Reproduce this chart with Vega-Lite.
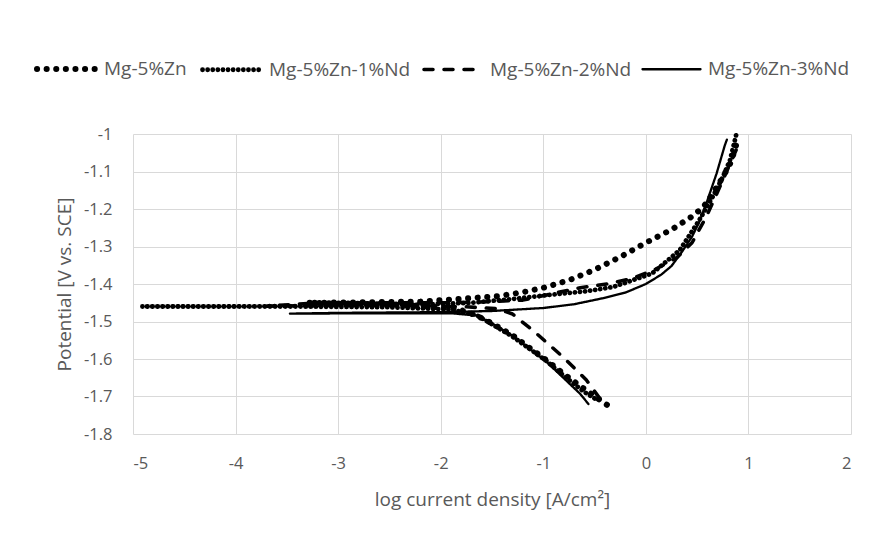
{
  "$schema": "https://vega.github.io/schema/vega-lite/v6.json",
  "width": 718,
  "height": 300,
  "autosize": {"type": "none"},
  "padding": {"left": 133, "top": 134, "right": 23, "bottom": 102},
  "background": "white",
  "config": {
    "font": "Open Sans",
    "view": {"stroke": null},
    "axis": {
      "labelColor": "#595959",
      "titleColor": "#595959",
      "labelFontSize": 16.5,
      "titleFontSize": 19,
      "titleFontWeight": "normal",
      "gridColor": "#d9d9d9",
      "gridWidth": 1,
      "domain": false,
      "ticks": false,
      "labelExpr": "datum.value + ''"
    },
    "legend": {
      "title": null,
      "orient": "none",
      "legendX": -99,
      "legendY": -97,
      "direction": "horizontal",
      "symbolType": "stroke",
      "symbolSize": 3364,
      "symbolStrokeColor": "black",
      "labelFontSize": 19,
      "labelColor": "#595959",
      "labelOffset": 6,
      "columnPadding": 5
    }
  },
  "data": {
    "values": [
      {"s": "Mg-5%Zn", "i": 1, "x": -0.38, "y": -1.722},
      {"s": "Mg-5%Zn", "i": 2, "x": -0.47, "y": -1.705},
      {"s": "Mg-5%Zn", "i": 3, "x": -0.6, "y": -1.68},
      {"s": "Mg-5%Zn", "i": 4, "x": -0.8, "y": -1.64},
      {"s": "Mg-5%Zn", "i": 5, "x": -0.97, "y": -1.603},
      {"s": "Mg-5%Zn", "i": 6, "x": -1.15, "y": -1.567},
      {"s": "Mg-5%Zn", "i": 7, "x": -1.3, "y": -1.537},
      {"s": "Mg-5%Zn", "i": 8, "x": -1.5, "y": -1.505},
      {"s": "Mg-5%Zn", "i": 9, "x": -1.65, "y": -1.484},
      {"s": "Mg-5%Zn", "i": 10, "x": -1.85, "y": -1.465},
      {"s": "Mg-5%Zn", "i": 11, "x": -2.4, "y": -1.455},
      {"s": "Mg-5%Zn", "i": 12, "x": -3.3, "y": -1.45},
      {"s": "Mg-5%Zn", "i": 13, "x": -2.8, "y": -1.449},
      {"s": "Mg-5%Zn", "i": 14, "x": -2.2, "y": -1.447},
      {"s": "Mg-5%Zn", "i": 15, "x": -1.72, "y": -1.438},
      {"s": "Mg-5%Zn", "i": 16, "x": -1.43, "y": -1.432},
      {"s": "Mg-5%Zn", "i": 17, "x": -1.2, "y": -1.422},
      {"s": "Mg-5%Zn", "i": 18, "x": -1.0, "y": -1.41},
      {"s": "Mg-5%Zn", "i": 19, "x": -0.75, "y": -1.39},
      {"s": "Mg-5%Zn", "i": 20, "x": -0.5, "y": -1.362},
      {"s": "Mg-5%Zn", "i": 21, "x": -0.25, "y": -1.328},
      {"s": "Mg-5%Zn", "i": 22, "x": 0.0, "y": -1.29},
      {"s": "Mg-5%Zn", "i": 23, "x": 0.25, "y": -1.255},
      {"s": "Mg-5%Zn", "i": 24, "x": 0.45, "y": -1.22},
      {"s": "Mg-5%Zn", "i": 25, "x": 0.56, "y": -1.195},
      {"s": "Mg-5%Zn", "i": 26, "x": 0.65, "y": -1.16},
      {"s": "Mg-5%Zn", "i": 27, "x": 0.75, "y": -1.115},
      {"s": "Mg-5%Zn", "i": 28, "x": 0.83, "y": -1.075},
      {"s": "Mg-5%Zn", "i": 29, "x": 0.88, "y": -1.03},

      {"s": "Mg-5%Zn-1%Nd", "i": 1, "x": -0.5, "y": -1.705},
      {"s": "Mg-5%Zn-1%Nd", "i": 2, "x": -0.6, "y": -1.688},
      {"s": "Mg-5%Zn-1%Nd", "i": 3, "x": -0.8, "y": -1.645},
      {"s": "Mg-5%Zn-1%Nd", "i": 4, "x": -0.97, "y": -1.605},
      {"s": "Mg-5%Zn-1%Nd", "i": 5, "x": -1.3, "y": -1.54},
      {"s": "Mg-5%Zn-1%Nd", "i": 6, "x": -1.65, "y": -1.483},
      {"s": "Mg-5%Zn-1%Nd", "i": 7, "x": -1.9, "y": -1.468},
      {"s": "Mg-5%Zn-1%Nd", "i": 8, "x": -2.5, "y": -1.462},
      {"s": "Mg-5%Zn-1%Nd", "i": 9, "x": -3.5, "y": -1.46},
      {"s": "Mg-5%Zn-1%Nd", "i": 10, "x": -4.91, "y": -1.46},
      {"s": "Mg-5%Zn-1%Nd", "i": 11, "x": -4.0, "y": -1.46},
      {"s": "Mg-5%Zn-1%Nd", "i": 12, "x": -3.0, "y": -1.458},
      {"s": "Mg-5%Zn-1%Nd", "i": 13, "x": -2.2, "y": -1.455},
      {"s": "Mg-5%Zn-1%Nd", "i": 14, "x": -1.7, "y": -1.45},
      {"s": "Mg-5%Zn-1%Nd", "i": 15, "x": -1.3, "y": -1.44},
      {"s": "Mg-5%Zn-1%Nd", "i": 16, "x": -0.97, "y": -1.43},
      {"s": "Mg-5%Zn-1%Nd", "i": 17, "x": -0.6, "y": -1.42},
      {"s": "Mg-5%Zn-1%Nd", "i": 18, "x": -0.32, "y": -1.408},
      {"s": "Mg-5%Zn-1%Nd", "i": 19, "x": 0.06, "y": -1.372},
      {"s": "Mg-5%Zn-1%Nd", "i": 20, "x": 0.33, "y": -1.31},
      {"s": "Mg-5%Zn-1%Nd", "i": 21, "x": 0.52, "y": -1.23},
      {"s": "Mg-5%Zn-1%Nd", "i": 22, "x": 0.65, "y": -1.168},
      {"s": "Mg-5%Zn-1%Nd", "i": 23, "x": 0.75, "y": -1.115},
      {"s": "Mg-5%Zn-1%Nd", "i": 24, "x": 0.82, "y": -1.07},
      {"s": "Mg-5%Zn-1%Nd", "i": 25, "x": 0.88, "y": -1.003},

      {"s": "Mg-5%Zn-2%Nd", "i": 1, "x": -0.45, "y": -1.705},
      {"s": "Mg-5%Zn-2%Nd", "i": 2, "x": -0.58, "y": -1.656},
      {"s": "Mg-5%Zn-2%Nd", "i": 3, "x": -0.81, "y": -1.594},
      {"s": "Mg-5%Zn-2%Nd", "i": 4, "x": -1.07, "y": -1.531},
      {"s": "Mg-5%Zn-2%Nd", "i": 5, "x": -1.3, "y": -1.48},
      {"s": "Mg-5%Zn-2%Nd", "i": 6, "x": -1.45, "y": -1.466},
      {"s": "Mg-5%Zn-2%Nd", "i": 7, "x": -1.8, "y": -1.46},
      {"s": "Mg-5%Zn-2%Nd", "i": 8, "x": -2.5, "y": -1.457},
      {"s": "Mg-5%Zn-2%Nd", "i": 9, "x": -3.0, "y": -1.457},
      {"s": "Mg-5%Zn-2%Nd", "i": 10, "x": -3.69, "y": -1.459},
      {"s": "Mg-5%Zn-2%Nd", "i": 11, "x": -3.3, "y": -1.452},
      {"s": "Mg-5%Zn-2%Nd", "i": 12, "x": -2.5, "y": -1.45},
      {"s": "Mg-5%Zn-2%Nd", "i": 13, "x": -1.9, "y": -1.45},
      {"s": "Mg-5%Zn-2%Nd", "i": 14, "x": -1.5, "y": -1.447},
      {"s": "Mg-5%Zn-2%Nd", "i": 15, "x": -1.2, "y": -1.443},
      {"s": "Mg-5%Zn-2%Nd", "i": 16, "x": -0.9, "y": -1.425},
      {"s": "Mg-5%Zn-2%Nd", "i": 17, "x": -0.64, "y": -1.41},
      {"s": "Mg-5%Zn-2%Nd", "i": 18, "x": -0.38, "y": -1.4},
      {"s": "Mg-5%Zn-2%Nd", "i": 19, "x": -0.13, "y": -1.385},
      {"s": "Mg-5%Zn-2%Nd", "i": 20, "x": 0.1, "y": -1.36},
      {"s": "Mg-5%Zn-2%Nd", "i": 21, "x": 0.3, "y": -1.33},
      {"s": "Mg-5%Zn-2%Nd", "i": 22, "x": 0.45, "y": -1.29},
      {"s": "Mg-5%Zn-2%Nd", "i": 23, "x": 0.59, "y": -1.22},
      {"s": "Mg-5%Zn-2%Nd", "i": 24, "x": 0.69, "y": -1.16},
      {"s": "Mg-5%Zn-2%Nd", "i": 25, "x": 0.82, "y": -1.08},
      {"s": "Mg-5%Zn-2%Nd", "i": 26, "x": 0.88, "y": -1.043},

      {"s": "Mg-5%Zn-3%Nd", "i": 2, "x": -0.56, "y": -1.72},
      {"s": "Mg-5%Zn-3%Nd", "i": 3, "x": -0.64, "y": -1.693},
      {"s": "Mg-5%Zn-3%Nd", "i": 4, "x": -0.97, "y": -1.607},
      {"s": "Mg-5%Zn-3%Nd", "i": 5, "x": -1.29, "y": -1.54},
      {"s": "Mg-5%Zn-3%Nd", "i": 6, "x": -1.5, "y": -1.505},
      {"s": "Mg-5%Zn-3%Nd", "i": 7, "x": -1.65, "y": -1.484},
      {"s": "Mg-5%Zn-3%Nd", "i": 8, "x": -1.9, "y": -1.478},
      {"s": "Mg-5%Zn-3%Nd", "i": 9, "x": -2.5, "y": -1.478},
      {"s": "Mg-5%Zn-3%Nd", "i": 10, "x": -3.47, "y": -1.479},
      {"s": "Mg-5%Zn-3%Nd", "i": 11, "x": -3.0, "y": -1.477},
      {"s": "Mg-5%Zn-3%Nd", "i": 12, "x": -2.0, "y": -1.475},
      {"s": "Mg-5%Zn-3%Nd", "i": 13, "x": -1.5, "y": -1.472},
      {"s": "Mg-5%Zn-3%Nd", "i": 14, "x": -1.0, "y": -1.464},
      {"s": "Mg-5%Zn-3%Nd", "i": 15, "x": -0.7, "y": -1.454},
      {"s": "Mg-5%Zn-3%Nd", "i": 16, "x": -0.42, "y": -1.438},
      {"s": "Mg-5%Zn-3%Nd", "i": 17, "x": -0.2, "y": -1.423},
      {"s": "Mg-5%Zn-3%Nd", "i": 18, "x": 0.0, "y": -1.4},
      {"s": "Mg-5%Zn-3%Nd", "i": 19, "x": 0.15, "y": -1.375},
      {"s": "Mg-5%Zn-3%Nd", "i": 20, "x": 0.25, "y": -1.352},
      {"s": "Mg-5%Zn-3%Nd", "i": 21, "x": 0.35, "y": -1.315},
      {"s": "Mg-5%Zn-3%Nd", "i": 22, "x": 0.45, "y": -1.274},
      {"s": "Mg-5%Zn-3%Nd", "i": 23, "x": 0.52, "y": -1.235},
      {"s": "Mg-5%Zn-3%Nd", "i": 24, "x": 0.59, "y": -1.185},
      {"s": "Mg-5%Zn-3%Nd", "i": 25, "x": 0.69, "y": -1.105},
      {"s": "Mg-5%Zn-3%Nd", "i": 26, "x": 0.77, "y": -1.03},
      {"s": "Mg-5%Zn-3%Nd", "i": 27, "x": 0.79, "y": -1.015}
    ]
  },
  "mark": {"type": "line", "color": "black", "strokeCap": "round", "strokeJoin": "round"},
  "encoding": {
    "x": {
      "field": "x", "type": "quantitative",
      "scale": {"domain": [-5, 2], "nice": false, "zero": false},
      "axis": {"values": [-5, -4, -3, -2, -1, 0, 1, 2], "title": "log current density [A/cm²]", "labelPadding": 21, "titlePadding": 19}
    },
    "y": {
      "field": "y", "type": "quantitative",
      "scale": {"domain": [-1.8, -1], "nice": false, "zero": false},
      "axis": {"values": [-1.8, -1.7, -1.6, -1.5, -1.4, -1.3, -1.2, -1.1, -1], "title": "Potential [V vs. SCE]", "labelPadding": 21, "titlePadding": 9}
    },
    "order": {"field": "i", "type": "quantitative"},
    "strokeDash": {
      "field": "s", "type": "nominal",
      "scale": {
        "domain": ["Mg-5%Zn", "Mg-5%Zn-1%Nd", "Mg-5%Zn-2%Nd", "Mg-5%Zn-3%Nd"],
        "range": [[0.1, 9.5], [0.1, 5], [9, 11], [1, 0]]
      },
      "legend": {"encode": {"symbols": {"update": {"strokeCap": {"value": "round"}}}}}
    },
    "strokeWidth": {
      "field": "s", "type": "nominal",
      "scale": {
        "domain": ["Mg-5%Zn", "Mg-5%Zn-1%Nd", "Mg-5%Zn-2%Nd", "Mg-5%Zn-3%Nd"],
        "range": [6, 2.3, 3.8, 2.5]
      },
      "legend": {"encode": {"symbols": {"update": {"strokeCap": {"value": "round"}}}}}
    }
  }
}
